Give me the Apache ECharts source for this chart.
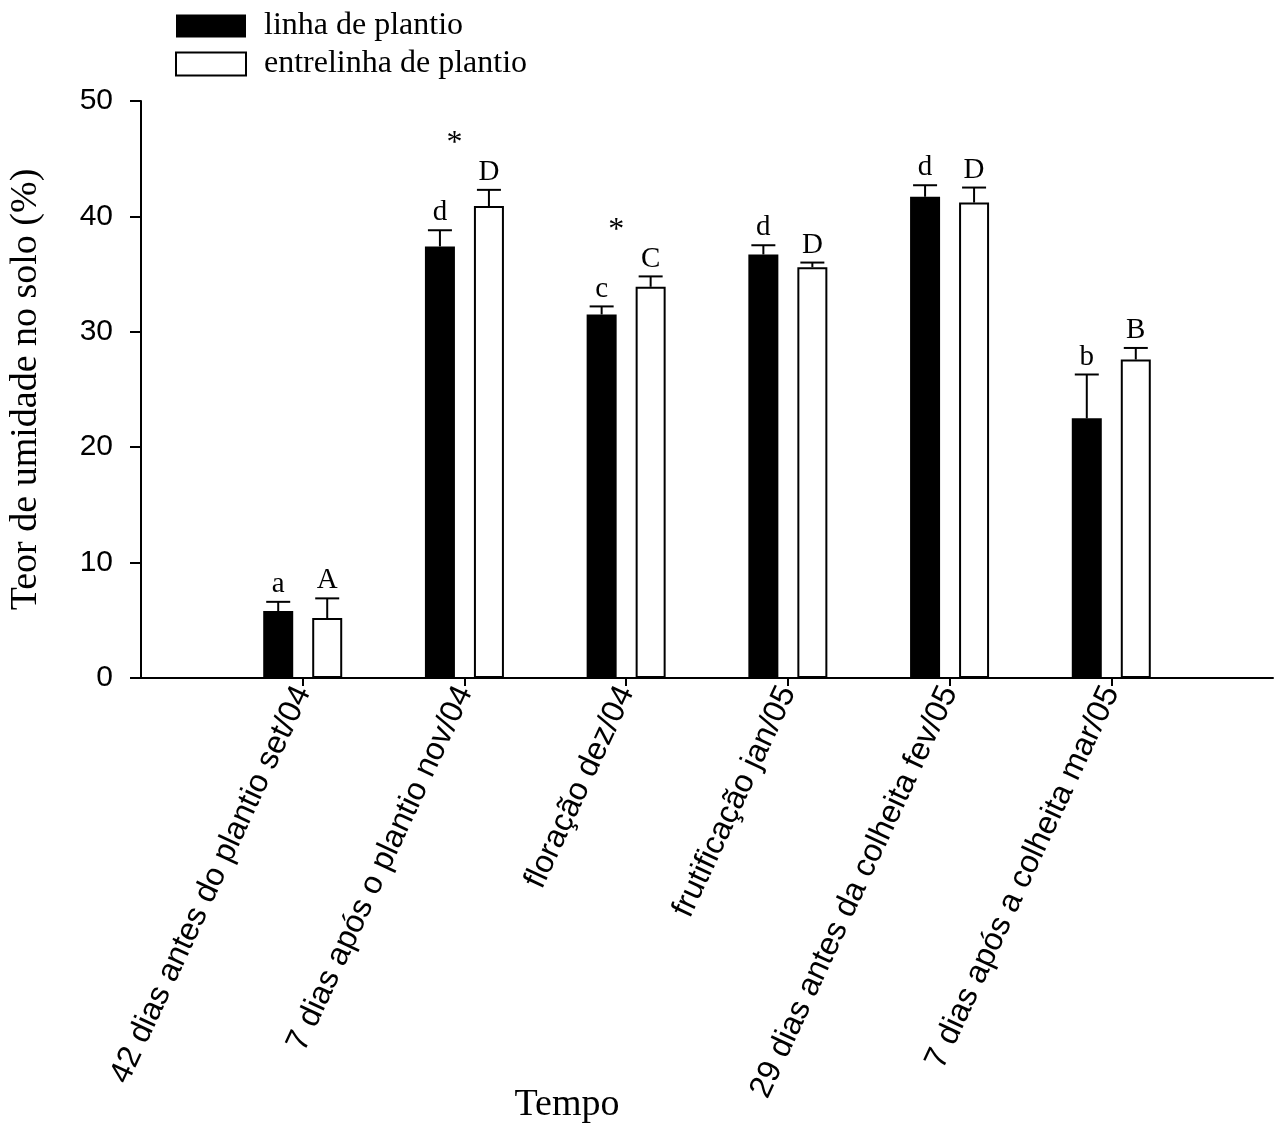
<!DOCTYPE html>
<html>
<head>
<meta charset="utf-8">
<title>Teor de umidade no solo</title>
<script src="https://cdn.jsdelivr.net/npm/echarts@6/dist/echarts.min.js"></script>
<style>
  html, body { margin: 0; padding: 0; background: #fff; }
  #chart { width: 1274px; height: 1124px; }
</style>
</head>
<body>
<div id="chart"></div>
<script>
// Sampling dates
const timePoints = [
  '42 dias antes do plantio set/04',
  '7 dias após o plantio nov/04',
  'floração dez/04',
  'frutificação jan/05',
  '29 dias antes da colheita fev/05',
  '7 dias após a colheita mar/05'
];

// Soil moisture (%) – planting row
const linhaMean = [5.8, 37.4, 31.5, 36.7, 41.7, 22.5];
const linhaErr  = [0.8, 1.4, 0.7, 0.8, 1.0, 3.8];
const linhaLetters = ['a', 'd', 'c', 'd', 'd', 'b'];

// Soil moisture (%) – between rows
const entreMean = [5.2, 40.9, 33.9, 35.6, 41.2, 27.6];
const entreErr  = [1.7, 1.4, 0.9, 0.4, 1.3, 1.0];
const entreLetters = ['A', 'D', 'C', 'D', 'D', 'B'];

// Significant difference between row and inter-row (asterisk height, % scale)
const asteriskAt = [null, 46.6, 39.0, null, null, null];

const yTicks = { min: 0, max: 50, interval: 10 };

const SERIF = '"Liberation Serif", "Times New Roman", serif';
const SANS = '"Liberation Sans", Arial, Helvetica, sans-serif';
const BAR_W = 30;
const BAR_GAP_PX = 19;
const HALF_STEP = (BAR_W + BAR_GAP_PX) / 2;

// one empty slot on each side of the sampling dates
const axisCats = [''].concat(timePoints, ['']);
const pad = arr => ['-'].concat(arr, ['-']);

function errorBarRenderer(means, errs, letters, dx) {
  return function (params, api) {
    const i = params.dataIndex;
    const top = api.coord([i + 1, means[i]]);
    const cap = api.coord([i + 1, means[i] + errs[i]]);
    const x = top[0] + dx;
    return {
      type: 'group',
      children: [
        { type: 'line', shape: { x1: x, y1: top[1], x2: x, y2: cap[1] },
          style: { stroke: '#000', lineWidth: 2 } },
        { type: 'line', shape: { x1: x - 12, y1: cap[1], x2: x + 12, y2: cap[1] },
          style: { stroke: '#000', lineWidth: 2 } },
        { type: 'text', x: x, y: cap[1] - 3,
          style: { text: letters[i], fill: '#000', font: '29px ' + SERIF,
                   align: 'center', verticalAlign: 'bottom' } }
      ]
    };
  };
}

const chart = echarts.init(document.getElementById('chart'), null, { renderer: 'canvas' });

chart.setOption({
  animation: false,
  backgroundColor: '#fff',
  grid: { left: 141, right: 1, top: 101, bottom: 446, containLabel: false, outerBoundsMode: 'none' },
  legend: {
    orient: 'vertical',
    left: 175,
    top: 10,
    padding: 0,
    itemWidth: 70,
    itemHeight: 23,
    itemGap: 6,
    selectedMode: false,
    icon: 'rect',
    textStyle: { fontFamily: SERIF, fontSize: 32, color: '#000', padding: [0, 0, 0, 13] },
    data: [
      { name: 'linha de plantio', itemStyle: { color: '#000', borderWidth: 0 } },
      { name: 'entrelinha de plantio', itemStyle: { color: '#fff', borderColor: '#000', borderWidth: 2 } }
    ]
  },
  xAxis: {
    type: 'category',
    data: axisCats,
    boundaryGap: false,
    axisLine: { lineStyle: { color: '#000', width: 2 } },
    axisTick: {
      length: 8,
      lineStyle: { color: '#000', width: 2 },
      interval: (index) => index > 0 && index < axisCats.length - 1
    },
    axisLabel: {
      interval: 0,
      rotate: 65,
      margin: 10,
      color: '#000',
      fontFamily: SANS,
      fontSize: 32
    },
    splitLine: { show: false }
  },
  yAxis: {
    type: 'value',
    min: yTicks.min,
    max: yTicks.max,
    interval: yTicks.interval,
    name: 'Teor de umidade no solo (%)',
    nameLocation: 'middle',
    nameGap: 96,
    nameRotate: 90,
    nameTextStyle: { fontFamily: SERIF, fontSize: 38, color: '#000' },
    axisLine: { show: true, lineStyle: { color: '#000', width: 2 } },
    axisTick: { show: true, length: 11, lineStyle: { color: '#000', width: 2 } },
    axisLabel: { margin: 28, color: '#000', fontFamily: SANS, fontSize: 30 },
    splitLine: { show: false }
  },
  graphic: [
    { type: 'text', x: 567, y: 1105,
      style: { text: 'Tempo', font: '38px ' + SERIF, fill: '#000', align: 'center', verticalAlign: 'middle' } }
  ],
  series: [
    {
      name: 'linha de plantio',
      type: 'bar',
      data: pad(linhaMean),
      barWidth: BAR_W,
      barGap: (BAR_GAP_PX / BAR_W * 100) + '%',
      itemStyle: { color: '#000' }
    },
    {
      name: 'entrelinha de plantio',
      type: 'bar',
      data: pad(entreMean),
      barWidth: BAR_W,
      barGap: (BAR_GAP_PX / BAR_W * 100) + '%',
      itemStyle: { color: '#fff', borderColor: '#000', borderWidth: 2 }
    },
    {
      type: 'custom',
      name: 'erro linha',
      data: linhaMean.map((v, i) => [i + 1, v + linhaErr[i]]),
      renderItem: errorBarRenderer(linhaMean, linhaErr, linhaLetters, -HALF_STEP),
      z: 5
    },
    {
      type: 'custom',
      name: 'erro entrelinha',
      data: entreMean.map((v, i) => [i + 1, v + entreErr[i]]),
      renderItem: errorBarRenderer(entreMean, entreErr, entreLetters, HALF_STEP),
      z: 5
    },
    {
      type: 'custom',
      name: 'diferença',
      data: asteriskAt.map((v, i) => v == null ? null : [i + 1, v]).filter(d => d),
      renderItem: function (params, api) {
        const p = api.coord([api.value(0), api.value(1)]);
        return {
          type: 'text', x: p[0] - 10, y: p[1] + 3,
          style: { text: '*', font: '32px ' + SERIF, fill: '#000', align: 'center', verticalAlign: 'middle' }
        };
      },
      z: 5
    }
  ]
});
</script>
</body>
</html>
